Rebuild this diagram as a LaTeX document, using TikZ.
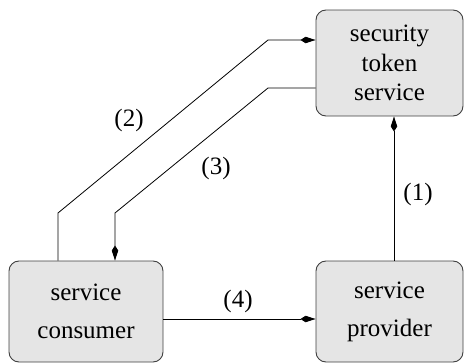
\documentclass[tikz,border=0pt]{standalone}
\usepackage{fontspec}
\setmainfont{Liberation Serif}
\usetikzlibrary{arrows.meta}
\begin{document}
\begin{tikzpicture}[x=1pt,y=-1pt,
  box/.style={draw=black!75,line width=0.9pt,fill=black!10,rounded corners=10pt,align=center,inner sep=0pt,
    font=\fontsize{25}{29.5}\selectfont},
  wide/.style={font=\fontsize{25}{38}\selectfont},
  conn/.style={line width=0.8pt,-{Kite[length=15pt,width=6.5pt,inset=5pt]}},
  lbl/.style={font=\fontsize{25}{29}\selectfont,inner sep=0pt}]
\useasboundingbox (0,0) rectangle (464,364);
\node[box,minimum width=147pt,minimum height=106pt] (sts) at (389.5,63) {security\\token\\service};
\node[box,wide,minimum width=154pt,minimum height=101pt] (sc) at (86,311.5) {service\\consumer};
\node[box,wide,minimum width=147pt,minimum height=101pt] (sp) at (389.5,311.5) {service\\provider};
\coordinate (a1) at (58,213);
\coordinate (a2) at (268,40);
\coordinate (b1) at (268,88);
\coordinate (b2) at (115,213);
\draw[conn] (sp.north -| 394,0) -- (sts.south -| 394,0);
\draw[conn] (sc.north -| a1) -- (a1) -- (a2) -- (sts.west |- a2);
\draw[conn] (sts.west |- b1) -- (b1) -- (b2) -- (sc.north -| b2);
\draw[conn] (sc.east |- 0,319) -- (sp.west |- 0,319);
\node[lbl] (l2) at (129,120) {(2)};
\node[lbl] (l3) at (216,168) {(3)};
\node[lbl] (l1) at (418,194) {(1)};
\node[lbl] (l4) at (238,301) {(4)};
\end{tikzpicture}
\end{document}
